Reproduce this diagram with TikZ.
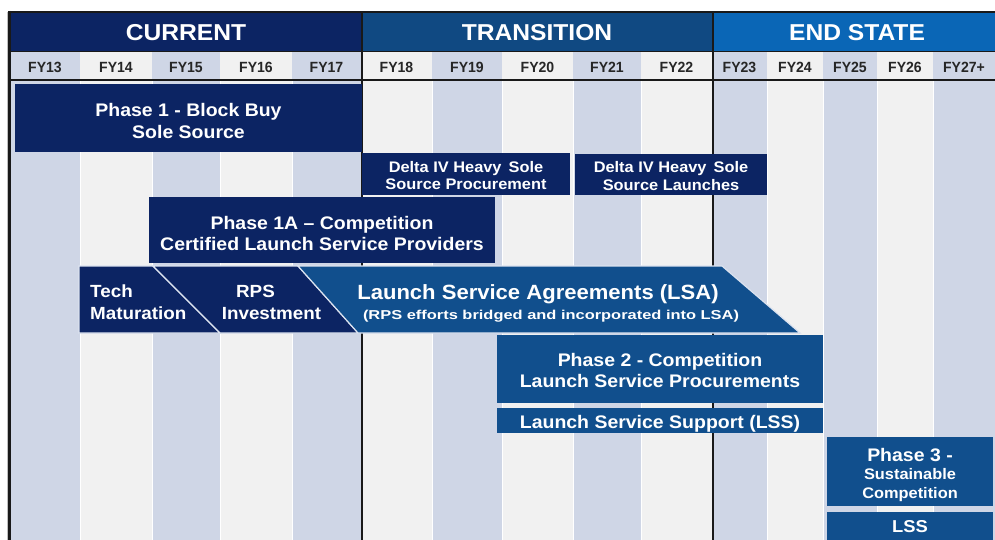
\documentclass[tikz,border=0pt]{standalone}
\usepackage{fontspec}
\usepackage{graphicx}
\setmainfont{Liberation Sans}[FakeStretch=1.07]
\newfontfamily\fyfont{Liberation Sans}[FakeStretch=0.95]
\definecolor{navy}{HTML}{0C2463}
\definecolor{midblue}{HTML}{114F8D}
\definecolor{endblue}{HTML}{0A66B6}
\definecolor{colA}{HTML}{CFD6E6}
\definecolor{colB}{HTML}{F1F1F1}
\definecolor{sepline}{HTML}{DCE3F0}
\tikzset{
  box/.style={fill=#1, draw=none, inner sep=0pt, outer sep=0pt, anchor=north west},
  hdr/.style={text=white, font=\bfseries\fontsize{23}{26}\selectfont, inner sep=0pt, anchor=base},
  fy/.style={text=black!85, font=\fyfont\bfseries\fontsize{14.8}{16}\selectfont, inner sep=0pt, anchor=base},
  lbl/.style={text=white, font=\bfseries, inner sep=0pt, align=center},
  shp/.style={fill=#1, draw=sepline, line width=1.2pt, line join=miter},
  divider/.style={line width=2pt, draw=black!90}
}
\begin{document}
\begin{tikzpicture}[x=1pt,y=-1pt]
\useasboundingbox (0,0) rectangle (995,540);
\fill[white] (0,0) rectangle (995,540);
% columns
\foreach \a/\b/\c/\t in {10/80/colA/FY13,80/152/colB/FY14,152/220/colA/FY15,220/292/colB/FY16,292/361/colA/FY17,
  361/432/colB/FY18,432/502/colA/FY19,502/573/colB/FY20,573/641/colA/FY21,641/712/colB/FY22,
  712/767/colA/FY23,767/823/colB/FY24,823/877/colA/FY25,877/933/colB/FY26,933/995/colA/FY27+}{
  \fill[\c] (\a,52) rectangle (\b,540);
  \draw[white, line width=0.8pt] (\a,80) -- (\a,540);
  \node[fy] (\t) at ({(\a+\b)/2},72.5) {\t};
}
% header bands
\fill[navy] (10,12) rectangle (361,52);
\fill[midblue!92!black] (361,12) rectangle (712,52);
\fill[endblue] (712,12) rectangle (995,52);
\node[hdr] (cur) at (186,41) {CURRENT};
\node[hdr] (tra) at (537,41) {TRANSITION};
\node[hdr] (end) at (857,41) {END STATE};
% frame lines
\draw[black!90, line width=1pt] (10,52) -- (995,52);
\draw[divider] (9,80.5) -- (995,80.5);
\draw[divider] (8,12) -- (995,12);
\draw[black!25, line width=1pt] (7,12) -- (7,540);
\draw[line width=2.6pt, draw=black!90] (9.5,11) -- (9.5,540);
\draw[divider] (361.5,12) -- (361.5,540);
\draw[divider] (712.5,12) -- (712.5,540);
% boxes
\node[box=navy, minimum width=347pt, minimum height=68pt] (p1) at (15,84) {};
\node[lbl, font=\bfseries\fontsize{18.2}{21.5}\selectfont] (p1t) at ([yshift=-3pt]p1.center)
  {Phase 1 - Block Buy\\Sole Source};
\node[box=navy, minimum width=208pt, minimum height=42pt] (d1) at (362,153) {};
\node[lbl, font=\bfseries\fontsize{15.3}{17.5}\selectfont] (d1t) at ([yshift=-1.5pt]d1.center)
  {Delta IV Heavy\ \,Sole\\Source Procurement};
\node[box=navy, minimum width=192pt, minimum height=41pt] (d2) at (575,154) {};
\node[lbl, font=\bfseries\fontsize{15.3}{17.5}\selectfont] (d2t) at ([yshift=-1.5pt]d2.center)
  {Delta IV Heavy\ \,Sole\\Source Launches};
\node[box=navy, minimum width=346pt, minimum height=66pt] (p1a) at (149,197) {};
\node[lbl, font=\bfseries\fontsize{18.2}{21}\selectfont] (p1at) at ([yshift=-3pt]p1a.center)
  {Phase 1A -- Competition\\Certified Launch Service Providers};
% slanted row
\path[shp=navy] (79,266) -- (153,266) -- (220,333) -- (79,333) -- cycle;
\path[shp=navy] (153,266) -- (298,266) -- (358,333) -- (220,333) -- cycle;
\path[shp=midblue] (298,266) -- (722,266) -- (800,333) -- (358,333) -- cycle;
\node[lbl, anchor=west, align=left, font=\bfseries\fontsize{17.6}{22}\selectfont] (tech) at (90,302)
  {Tech\\Maturation};
\node[lbl, font=\bfseries\fontsize{17.6}{22}\selectfont] (rps) at (271.5,302)
  {RPS\hspace*{32pt}\\Investment};
\node[lbl, anchor=base, font=\bfseries\fontsize{20.6}{24}\selectfont] (lsa) at (538,299.5)
  {Launch Service Agreements (LSA)};
\node[lbl, anchor=base, font=\bfseries\fontsize{12.9}{15}\selectfont] (lsasub) at (551,319.5)
  {\scalebox{1.19}[1]{(RPS efforts bridged and incorporated into LSA)}};
% phase 2 / 3
\node[box=midblue, minimum width=326pt, minimum height=68pt] (p2) at (497,335) {};
\node[lbl, font=\bfseries\fontsize{18.2}{21.5}\selectfont] (p2t) at ([yshift=-1.5pt]p2.center)
  {Phase 2 - Competition\\Launch Service Procurements};
\node[box=midblue, minimum width=326pt, minimum height=25pt] (lss) at (497,408) {};
\node[lbl, anchor=base, font=\bfseries\fontsize{18.2}{21}\selectfont] (lsst) at (660,428)
  {Launch Service Support (LSS)};
\node[box=midblue, minimum width=166pt, minimum height=69pt] (p3) at (827,437) {};
\node[lbl, font=\bfseries\fontsize{15.3}{18.5}\selectfont] (p3t) at ([yshift=-3pt]p3.center)
  {{\fontsize{18.2}{19}\selectfont Phase 3 -}\\Sustainable\\Competition};
\node[box=midblue, minimum width=166pt, minimum height=28pt] (lss2) at (827,512) {};
\node[lbl, anchor=base, font=\bfseries\fontsize{17.2}{20}\selectfont] (lss2t) at (910,532)
  {LSS};
\end{tikzpicture}
\end{document}
